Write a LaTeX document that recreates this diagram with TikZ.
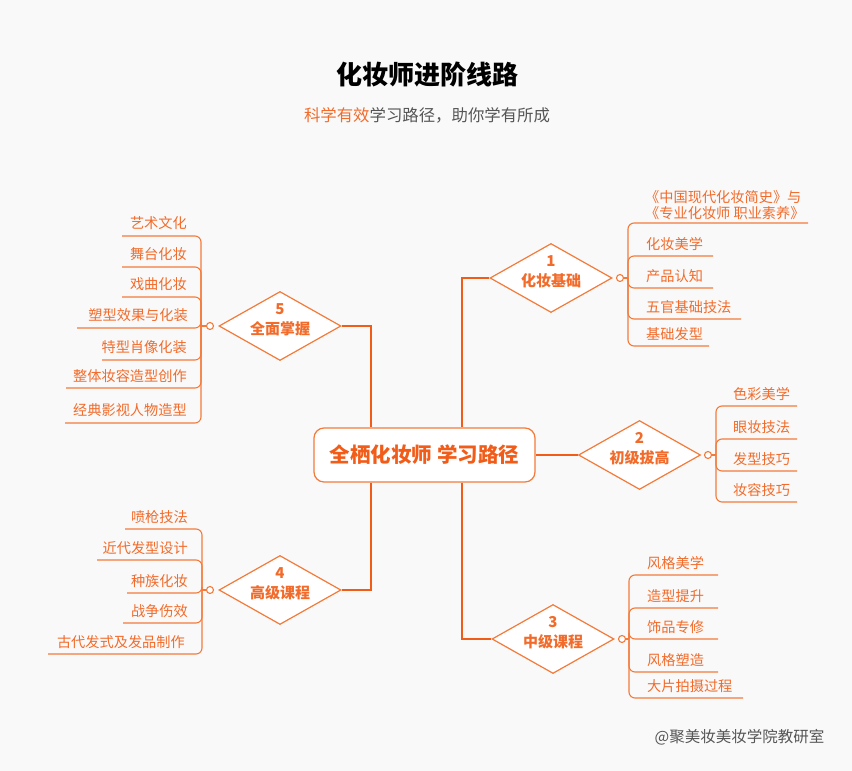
\documentclass[tikz,border=0pt]{standalone}
\usepackage{fontspec}
\setmainfont{Noto Sans CJK SC}
\usetikzlibrary{shapes.geometric}
\definecolor{bg}{HTML}{F9F9F9}
\definecolor{trunkc}{HTML}{F25C19}
\definecolor{lc}{HTML}{F47A3A}
\definecolor{tc}{HTML}{F26B2A}
\definecolor{gr}{HTML}{555555}
\tikzset{
  trunk/.style={draw=trunkc,line width=2.4pt},
  leafline/.style={draw=lc,line width=1.1pt,rounded corners=6pt},
  dia/.style={diamond,draw=lc,line width=1.2pt,fill=white,minimum width=122pt,minimum height=69pt,inner sep=0pt},
  diatext/.style={align=center,text=tc,font=\fontsize{15}{20}\selectfont\bfseries,inner sep=0pt},
  knob/.style={circle,draw=lc,line width=1.1pt,fill=white,minimum size=7pt,inner sep=0pt},
  rleaf/.style={anchor=west,text=tc,font=\fontsize{14.2}{16}\selectfont,inner sep=0pt},
  lleaf/.style={anchor=east,text=tc,font=\fontsize{14.2}{16}\selectfont,inner sep=0pt},
  rootbox/.style={draw=lc,line width=1.2pt,fill=white,rounded corners=10pt,minimum width=221pt,minimum height=54pt,text=trunkc,font=\fontsize{20.5}{22}\selectfont\bfseries}
}
\begin{document}
\begin{tikzpicture}[x=1pt,y=-1pt]
\useasboundingbox (0,0) rectangle (852,771);
\fill[bg] (0,0) rectangle (852,771);

% titles
\node[font=\fontsize{26}{30}\selectfont\bfseries,text=black] (title) at (427,75) {化妆师进阶线路};
\node[font=\fontsize{16.4}{18}\selectfont,text=gr] (sub) at (427,115) {\textcolor{tc}{科学有效}学习路径，助你学有所成};
\node[font=\fontsize{15.5}{18}\selectfont,text=gr] (wm) at (739.5,737) {@聚美妆美妆学院教研室};

% trunk coordinates
\coordinate (rtx) at (462,0);
\coordinate (ltx) at (371,0);

% central
\node[rootbox] (root) at (424.5,455) {全栖化妆师 学习路径};

% diamonds
\node[dia] (d1) at (551,278) {};
\node[dia] (d2) at (639.5,455) {};
\node[dia] (d3) at (553,639) {};
\node[dia] (d4) at (280,590) {};
\node[dia] (d5) at (280,326) {};

\node[diatext] (t1) at (551,272) {1\\化妆基础};
\node[diatext] (t2) at (639.5,449) {2\\初级拔高};
\node[diatext] (t3) at (553,633) {3\\中级课程};
\node[diatext] (t4) at (280,584) {4\\高级课程};
\node[diatext] (t5) at (280,320) {5\\全面掌握};

% trunks
\draw[trunk] (root.north -| rtx) |- (d1.west);
\draw[trunk] (root.south -| rtx) |- (d3.west);
\draw[trunk] (root.east) -- (d2.west);
\draw[trunk] (root.north -| ltx) |- (d5.east);
\draw[trunk] (root.south -| ltx) |- (d4.east);

% knobs
\node[knob] (c1) at (620,278) {};
\node[knob] (c2) at (708,455) {};
\node[knob] (c3) at (622,639) {};
\node[knob] (c4) at (210,590) {};
\node[knob] (c5) at (210,326) {};

% branch 1
\coordinate (v1) at (628,278);
\draw[leafline] (c1.east) -- (v1);
\node[rleaf,align=left] (a1) at (645,205) {《中国现代化妆简史》与\\《专业化妆师 职业素养》};
\coordinate (a1e) at (808,223);
\node[rleaf] (a2) at (646,244) {化妆美学};
\coordinate (a2e) at (713,256);
\node[rleaf] (a3) at (646,276) {产品认知};
\coordinate (a3e) at (713,288);
\node[rleaf] (a4) at (646,307) {五官基础技法};
\coordinate (a4e) at (741,319);
\node[rleaf] (a5) at (646,334) {基础发型};
\coordinate (a5e) at (709,346);
\foreach \e in {a1e,a2e,a3e,a4e,a5e} \draw[leafline] (v1) |- (\e);

% branch 2
\coordinate (v2) at (716,455);
\draw[leafline] (c2.east) -- (v2);
\node[rleaf] (b1) at (733,394) {色彩美学};
\coordinate (b1e) at (797,406);
\node[rleaf] (b2) at (733,427) {眼妆技法};
\coordinate (b2e) at (797,439);
\node[rleaf] (b3) at (733,459) {发型技巧};
\coordinate (b3e) at (797,471);
\node[rleaf] (b4) at (733,490) {妆容技巧};
\coordinate (b4e) at (797,502);
\foreach \e in {b1e,b2e,b3e,b4e} \draw[leafline] (v2) |- (\e);

% branch 3
\coordinate (v3) at (629,639);
\draw[leafline] (c3.east) -- (v3);
\node[rleaf] (e1) at (647,563) {风格美学};
\coordinate (e1e) at (718,575);
\node[rleaf] (e2) at (647,596) {造型提升};
\coordinate (e2e) at (718,608);
\node[rleaf] (e3) at (647,627) {饰品专修};
\coordinate (e3e) at (718,639);
\node[rleaf] (e4) at (647,660) {风格塑造};
\coordinate (e4e) at (718,672);
\node[rleaf] (e5) at (647,686) {大片拍摄过程};
\coordinate (e5e) at (743,698);
\foreach \e in {e1e,e2e,e3e,e4e,e5e} \draw[leafline] (v3) |- (\e);

% branch 4
\coordinate (v4) at (202,590);
\draw[leafline] (c4.west) -- (v4);
\node[lleaf] (f1) at (188,517) {喷枪技法};
\coordinate (f1e) at (125,529);
\node[lleaf] (f2) at (188,548) {近代发型设计};
\coordinate (f2e) at (97,560);
\node[lleaf] (f3) at (188,581) {种族化妆};
\coordinate (f3e) at (127,593);
\node[lleaf] (f4) at (188,611) {战争伤效};
\coordinate (f4e) at (123,623);
\node[lleaf] (f5) at (185,642) {古代发式及发品制作};
\coordinate (f5e) at (48,654);
\foreach \e in {f1e,f2e,f3e,f4e,f5e} \draw[leafline] (v4) |- (\e);

% branch 5
\coordinate (v5) at (201,326);
\draw[leafline] (c5.west) -- (v5);
\node[lleaf] (g1) at (187,223) {艺术文化};
\coordinate (g1e) at (122,236);
\node[lleaf] (g2) at (187,254) {舞台化妆};
\coordinate (g2e) at (122,267);
\node[lleaf] (g3) at (187,284) {戏曲化妆};
\coordinate (g3e) at (122,297);
\node[lleaf] (g4) at (188,315) {塑型效果与化装};
\coordinate (g4e) at (77,328);
\node[lleaf] (g5) at (187,347) {特型肖像化装};
\coordinate (g5e) at (102,360);
\node[lleaf] (g6) at (187,376) {整体妆容造型创作};
\coordinate (g6e) at (66,388);
\node[lleaf] (g7) at (187,410) {经典影视人物造型};
\coordinate (g7e) at (65,423);
\foreach \e in {g1e,g2e,g3e,g4e,g5e,g6e,g7e} \draw[leafline] (v5) |- (\e);
\end{tikzpicture}
\end{document}
